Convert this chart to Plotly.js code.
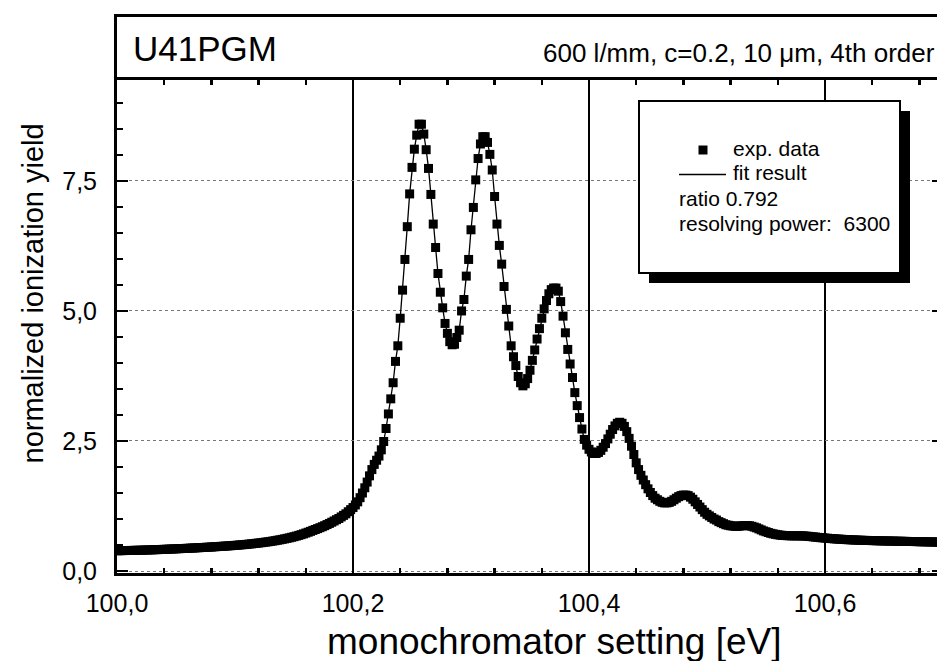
<!DOCTYPE html>
<html>
<head>
<meta charset="utf-8">
<script src="https://cdn.plot.ly/plotly-3.0.1.min.js"></script>
<style>
  html, body { margin: 0; padding: 0; overflow: hidden; background: #fff; }
  #chart { width: 946px; height: 661px; }
</style>
</head>
<body>
<div id="chart"></div>
<script>
// ---- data ----
const START_EV = 100.000;     // first sample of the monochromator scan [eV]
const STEP_EV = 0.002;        // scan step [eV]
const yieldValues = [
  0.390,0.391,0.392,0.393,0.394,0.395,0.396,0.397,0.398,0.399,
  0.400,0.402,0.403,0.405,0.406,0.408,0.410,0.411,0.413,0.415,
  0.417,0.419,0.421,0.423,0.425,0.427,0.429,0.431,0.433,0.435,
  0.437,0.440,0.442,0.444,0.447,0.449,0.452,0.454,0.457,0.459,
  0.462,0.465,0.468,0.471,0.474,0.477,0.480,0.483,0.486,0.490,
  0.493,0.497,0.501,0.505,0.509,0.513,0.518,0.523,0.528,0.533,
  0.538,0.544,0.550,0.556,0.562,0.569,0.576,0.584,0.592,0.600,
  0.609,0.618,0.628,0.638,0.649,0.660,0.672,0.685,0.699,0.714,
  0.730,0.746,0.763,0.781,0.798,0.815,0.833,0.852,0.872,0.893,
  0.915,0.938,0.962,0.987,1.01,1.04,1.07,1.10,1.14,1.18,
  1.22,1.27,1.33,1.41,1.50,1.60,1.71,1.83,1.95,2.05,
  2.13,2.21,2.33,2.49,2.74,3.02,3.31,3.62,4.03,4.33,
  4.86,5.40,5.99,6.62,7.25,7.76,8.11,8.38,8.59,8.59,
  8.40,8.10,7.74,7.24,6.67,6.22,5.72,5.36,5.06,4.76,
  4.57,4.41,4.35,4.36,4.49,4.63,5.00,5.22,5.67,5.99,
  6.56,6.99,7.52,7.93,8.21,8.35,8.35,8.24,8.01,7.71,
  7.20,6.67,6.26,5.90,5.47,5.03,4.71,4.33,4.12,3.95,
  3.74,3.62,3.56,3.60,3.70,3.86,4.05,4.25,4.46,4.66,
  4.86,5.04,5.20,5.33,5.41,5.44,5.44,5.38,5.18,4.90,
  4.58,4.26,3.98,3.72,3.43,3.18,2.95,2.73,2.53,2.42,
  2.34,2.29,2.26,2.26,2.28,2.32,2.38,2.45,2.54,2.63,
  2.72,2.79,2.84,2.86,2.84,2.78,2.68,2.55,2.40,2.24,
  2.08,1.95,1.84,1.75,1.66,1.58,1.51,1.45,1.40,1.37,
  1.34,1.32,1.31,1.31,1.32,1.34,1.37,1.40,1.43,1.45,
  1.46,1.46,1.45,1.42,1.38,1.33,1.28,1.23,1.18,1.13,
  1.09,1.06,1.03,1.00,0.98,0.95,0.93,0.91,0.89,0.88,
  0.870,0.865,0.860,0.860,0.865,0.870,0.875,0.875,0.870,0.860,
  0.845,0.830,0.810,0.790,0.770,0.755,0.740,0.725,0.715,0.705,
  0.697,0.690,0.685,0.682,0.680,0.678,0.677,0.677,0.677,0.677,
  0.676,0.674,0.671,0.667,0.662,0.657,0.652,0.647,0.642,0.638,
  0.634,0.630,0.626,0.622,0.619,0.616,0.613,0.610,0.607,0.604,
  0.602,0.600,0.598,0.596,0.594,0.592,0.590,0.589,0.588,0.586,
  0.585,0.584,0.582,0.581,0.580,0.579,0.578,0.577,0.576,0.575,
  0.574,0.573,0.572,0.571,0.570,0.569,0.568,0.567,0.566,0.565,
  0.564,0.563,0.562,0.561,0.560,0.559,0.558,0.557,0.556,0.555,0.555
];
const seriesNames = ["exp. data", "fit result"];
const headerLeft = "U41PGM";
const headerRight = "600 l/mm, c=0.2, 10 \u03bcm, 4th order";
const infoLines = ["ratio 0.792", "resolving power:\u00a0 6300"];
const xTitle = "monochromator setting [eV]";
const yTitle = "normalized ionization yield";

// ---- geometry helpers (pixel -> paper) ----
const W = 946, H = 661;
const M = { l: 117, r: 3, t: 80, b: 88 };
const PW = W - M.l - M.r, PH = H - M.t - M.b;
const px = v => (v - M.l) / PW;
const py = v => (H - M.b - v) / PH;

const FONT = "Liberation Sans, Arial, Helvetica, sans-serif";

const traces = [
  {
    type: "scatter", mode: "markers", name: seriesNames[0],
    x0: START_EV, dx: STEP_EV, y: yieldValues,
    marker: { symbol: "square", size: 9, color: "#000", line: { width: 0 } },
    showlegend: false, hoverinfo: "skip"
  },
  {
    type: "scatter", mode: "lines", name: seriesNames[1],
    x0: START_EV, dx: STEP_EV, y: yieldValues,
    line: { color: "#000", width: 1.3 },
    showlegend: false, hoverinfo: "skip"
  }
];

const shapes = [
  // header box
  { type: "rect", xref: "paper", yref: "paper",
    x0: px(115.5), x1: px(960), y0: py(78.5), y1: py(15.5),
    line: { color: "#000", width: 3 }, fillcolor: "rgba(0,0,0,0)", layer: "above" },
  // legend shadow
  { type: "rect", xref: "paper", yref: "paper",
    x0: px(649), x1: px(910), y0: py(283), y1: py(111),
    line: { width: 0 }, fillcolor: "#000", layer: "above" },
  // legend box
  { type: "rect", xref: "paper", yref: "paper",
    x0: px(639), x1: px(900), y0: py(273), y1: py(101),
    line: { color: "#000", width: 2 }, fillcolor: "#fff", layer: "above" },
  // legend symbol: square marker
  { type: "rect", xref: "paper", yref: "paper",
    x0: px(698.5), x1: px(707.5), y0: py(154.5), y1: py(145.5),
    line: { width: 0 }, fillcolor: "#000", layer: "above" },
  // legend symbol: line
  { type: "line", xref: "paper", yref: "paper",
    x0: px(679), x1: px(726), y0: py(174.5), y1: py(174.5),
    line: { color: "#000", width: 1.5 }, layer: "above" }
];

const ann = (text, x, y, size, xanchor, extra) => Object.assign({
  text, xref: "paper", yref: "paper", x: px(x), y: py(y),
  xanchor, yanchor: "middle", showarrow: false,
  font: { family: FONT, size, color: "#000" }
}, extra || {});

const annotations = [
  ann(headerLeft, 131, 48, 35, "left"),
  ann(headerRight, 937, 53, 26, "right"),
  ann(seriesNames[0], 731, 148.5, 21, "left"),
  ann(seriesNames[1], 731, 172.5, 21, "left"),
  ann(infoLines[0], 677, 198, 21, "left"),
  ann(infoLines[1], 677, 223.5, 21, "left"),
  ann(xTitle, 554, 641, 37, "center"),
  ann(yTitle, 32, 293.5, 29, "center", { textangle: -90 })
];

const layout = {
  width: W, height: H,
  margin: M,
  paper_bgcolor: "#fff", plot_bgcolor: "#fff",
  separators: ",.",
  showlegend: false,
  font: { family: FONT, color: "#000" },
  xaxis: {
    range: [100.0, 100.7],
    tick0: 100.0, dtick: 0.2, tickformat: ".1f",
    ticks: "inside", ticklen: 11, tickwidth: 2.5, tickcolor: "#000",
    minor: { dtick: 0.04, ticks: "inside", ticklen: 5, tickwidth: 2.5, tickcolor: "#000", showgrid: false },
    showline: true, linewidth: 3, linecolor: "#000", mirror: "ticks",
    showgrid: true, gridcolor: "#000", gridwidth: 1.5,
    zeroline: false,
    tickfont: { family: FONT, size: 25, color: "#000" },
    ticklabelstandoff: 6
  },
  yaxis: {
    range: [-0.038, 9.44],
    tick0: 0, dtick: 2.5, tickformat: ".1f",
    ticks: "inside", ticklen: 11, tickwidth: 2.5, tickcolor: "#000",
    minor: { dtick: 0.5, ticks: "inside", ticklen: 6, tickwidth: 2.5, tickcolor: "#000", showgrid: false },
    showline: true, linewidth: 3, linecolor: "#000", mirror: "ticks",
    showgrid: true, gridcolor: "#777", gridwidth: 1, griddash: "dot",
    zeroline: false,
    tickfont: { family: FONT, size: 25, color: "#000" },
    ticklabelstandoff: 12
  },
  shapes, annotations
};

Plotly.newPlot("chart", traces, layout, { staticPlot: true, displayModeBar: false });
</script>
</body>
</html>
